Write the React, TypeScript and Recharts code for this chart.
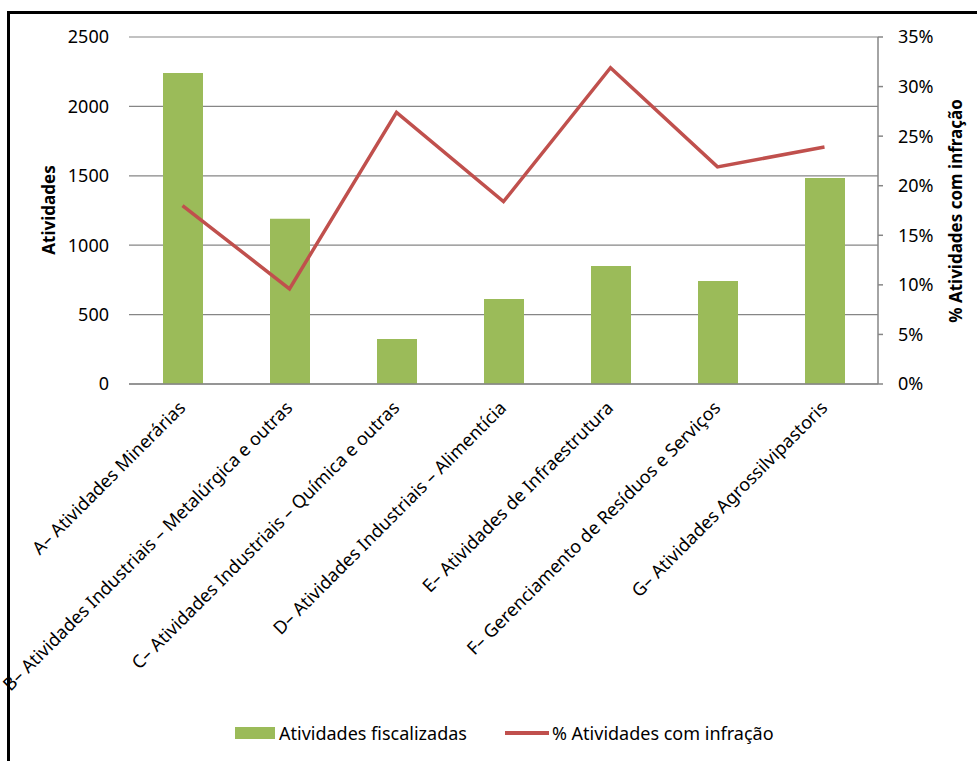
import { ComposedChart, Bar, Line, XAxis, YAxis, CartesianGrid } from "recharts";

const categories = [
  "A– Atividades Minerárias",
  "B– Atividades Industriais – Metalúrgica e outras",
  "C– Atividades Industriais – Química e outras",
  "D– Atividades Industriais – Alimentícia",
  "E– Atividades de Infraestrutura",
  "F– Gerenciamento de Resíduos e Serviços",
  "G– Atividades Agrossilvipastoris",
];
const fiscalizadas = [2240, 1190, 325, 612, 850, 742, 1484];
const comInfracao = [0.18, 0.096, 0.274, 0.184, 0.319, 0.219, 0.239];
const leftTicks = [0, 500, 1000, 1500, 2000, 2500];
const rightTicks = [0, 0.05, 0.1, 0.15, 0.2, 0.25, 0.3, 0.35];

const FONT = "'Noto Sans', sans-serif";
const GREEN = "#9BBB59";
const RED = "#C0504D";
const GRID = "#868686";

const data = categories.map((name, i) => ({
  name,
  fiscalizadas: fiscalizadas[i],
  infracao: comInfracao[i],
}));

function CategoryTick(props: any) {
  const { x, y, payload } = props;
  return (
    <g transform={`translate(${x + 4},${y + 23})`}>
      <text transform="rotate(-45)" textAnchor="end" fontSize={18} fill="#000" fontFamily={FONT}>
        {payload.value}
      </text>
    </g>
  );
}

export default function App() {
  return (
    <div
      style={{
        position: "absolute",
        left: 0,
        top: 0,
        width: 977,
        height: 761,
        overflow: "hidden",
        background: "#fff",
        fontFamily: FONT,
      }}
    >
      <ComposedChart
        width={977}
        height={761}
        data={data}
        margin={{ top: 37, right: 0, bottom: 0, left: 0 }}
        barSize={40}
      >
        <CartesianGrid yAxisId="left" vertical={false} stroke={GRID} strokeWidth={1.2} />
        <XAxis
          dataKey="name"
          height={377}
          interval={0}
          tickLine={false}
          tickSize={0}
          axisLine={{ stroke: GRID, strokeWidth: 1.5 }}
          tick={<CategoryTick />}
        />
        <YAxis
          yAxisId="left"
          orientation="left"
          width={129}
          domain={[0, 2500]}
          ticks={leftTicks}
          axisLine={false}
          tickLine={false}
          tickSize={0}
          tickMargin={20}
          tick={{ fontSize: 18, fill: "#000", fontFamily: FONT }}
          label={{
            content: () => (
              <text
                x={48.5}
                y={210}
                transform="rotate(-90, 48.5, 210)"
                textAnchor="middle"
                dominantBaseline="central"
                fontWeight="bold"
                fontSize={17}
                fontFamily={FONT}
                fill="#000"
              >
                Atividades
              </text>
            ),
          }}
        />
        <YAxis
          yAxisId="right"
          orientation="right"
          width={99}
          domain={[0, 0.35]}
          ticks={rightTicks}
          axisLine={{ stroke: GRID, strokeWidth: 1.5 }}
          tickLine={{ stroke: GRID, strokeWidth: 1.5 }}
          tickSize={5}
          tickMargin={15}
          tickFormatter={(v: number) => `${Math.round(v * 100)}%`}
          tick={{ fontSize: 18, fill: "#000", fontFamily: FONT, textAnchor: "start" }}
          label={{
            content: () => (
              <text
                x={955}
                y={211}
                transform="rotate(-90, 955, 211)"
                textAnchor="middle"
                dominantBaseline="central"
                fontWeight="bold"
                fontSize={17}
                fontFamily={FONT}
                fill="#000"
              >
                % Atividades com infração
              </text>
            ),
          }}
        />
        <Bar yAxisId="left" dataKey="fiscalizadas" fill={GREEN} isAnimationActive={false} />
        <Line
          yAxisId="right"
          type="linear"
          dataKey="infracao"
          stroke={RED}
          strokeWidth={3.5}
          dot={false}
          activeDot={false}
          isAnimationActive={false}
        />
      </ComposedChart>

      {/* legend */}
      <div
        style={{
          position: "absolute",
          top: 721,
          left: 235,
          display: "flex",
          alignItems: "center",
          fontSize: 18,
          height: 24,
          color: "#000",
        }}
      >
        <span style={{ width: 40, height: 12, background: GREEN, marginRight: 4 }} />
        <span>Atividades fiscalizadas</span>
        <span style={{ width: 44, height: 4, background: RED, marginLeft: 38, marginRight: 3 }} />
        <span>% Atividades com infração</span>
      </div>

      {/* outer frame */}
      <div
        style={{
          position: "absolute",
          left: 7,
          top: 11,
          width: 1000,
          height: 800,
          border: "3px solid #000",
          boxSizing: "border-box",
          pointerEvents: "none",
        }}
      />
    </div>
  );
}
